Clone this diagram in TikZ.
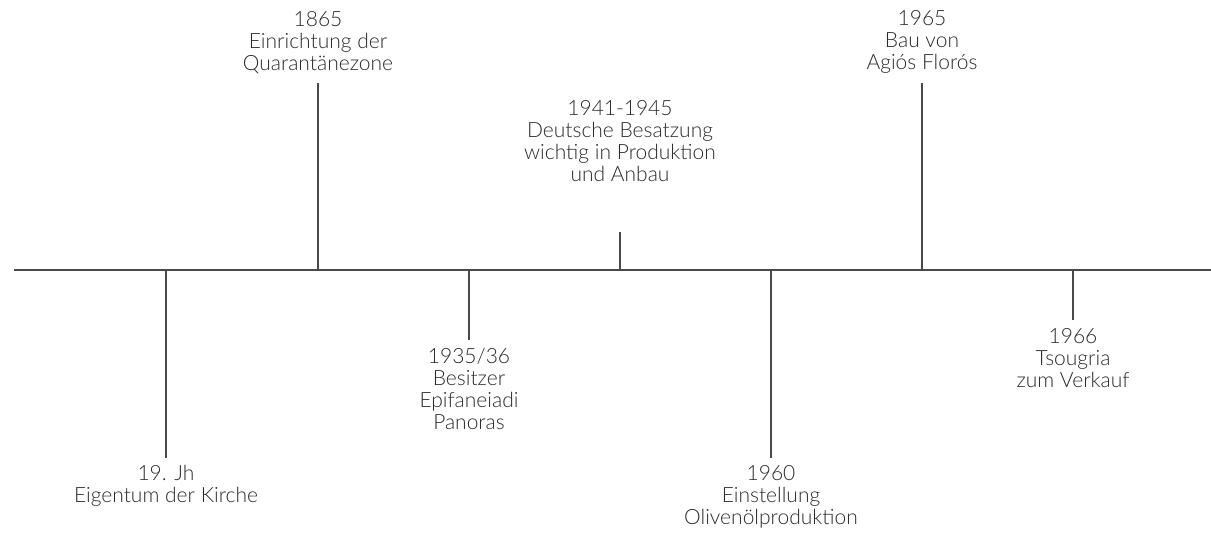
\documentclass[tikz,border=0pt]{standalone}
\usepackage{fontspec}
\setmainfont{Lato Light}[Ligatures=Common]
\definecolor{axisgray}{HTML}{4A4A4A}
\definecolor{textgray}{HTML}{2A2A2A}
\begin{document}
\begin{tikzpicture}[x=1pt,y=-1pt,
  axis/.style={draw=axisgray,line width=1.3pt},
  tick/.style={draw=axisgray,line width=1.3pt},
  lbl/.style={align=center,inner sep=0pt,text=textgray,font=\fontsize{21}{22}\selectfont},
  above lbl/.style={lbl,anchor=south},
  below lbl/.style={lbl,anchor=north}]
\useasboundingbox (0,0) rectangle (1211,540);
\coordinate (L) at (14,270);
\coordinate (R) at (1211,270);
\draw[axis] (L) -- (R);
% ticks
\coordinate (a0) at (166,270); \coordinate (a1) at (166,458);
\coordinate (b0) at (318,270); \coordinate (b1) at (318,83);
\coordinate (c0) at (469,270); \coordinate (c1) at (469,340);
\coordinate (d0) at (620,270); \coordinate (d1) at (620,232);
\coordinate (e0) at (771,270); \coordinate (e1) at (771,458);
\coordinate (f0) at (922,270); \coordinate (f1) at (922,83);
\coordinate (g0) at (1073,270); \coordinate (g1) at (1073,320);
\foreach \t in {a,b,c,d,e,f,g}{\draw[tick] (\t0) -- (\t1);}
\node[below lbl] (ta) at (166,465) {19. Jh\\Eigentum der Kirche};
\node[below lbl] (tc) at (469,348) {1935/36\\Besitzer\\Epifaneiadi\\Panoras};
\node[below lbl] (te) at (771,465) {1960\\Einstellung\\Olivenölproduktion};
\node[below lbl] (tg) at (1073,328) {1966\\Tsougria\\zum Verkauf};
\node[above lbl] (tb) at (318,74) {1865\\Einrichtung der\\Quarantänezone};
\node[above lbl] (td) at (620,182) {1941-1945\\Deutsche Besatzung\\wichtig in Produktion\\und Anbau};
\node[above lbl] (tf) at (922,74) {1965\\Bau von\\Agiós Florós};
\end{tikzpicture}
\end{document}
